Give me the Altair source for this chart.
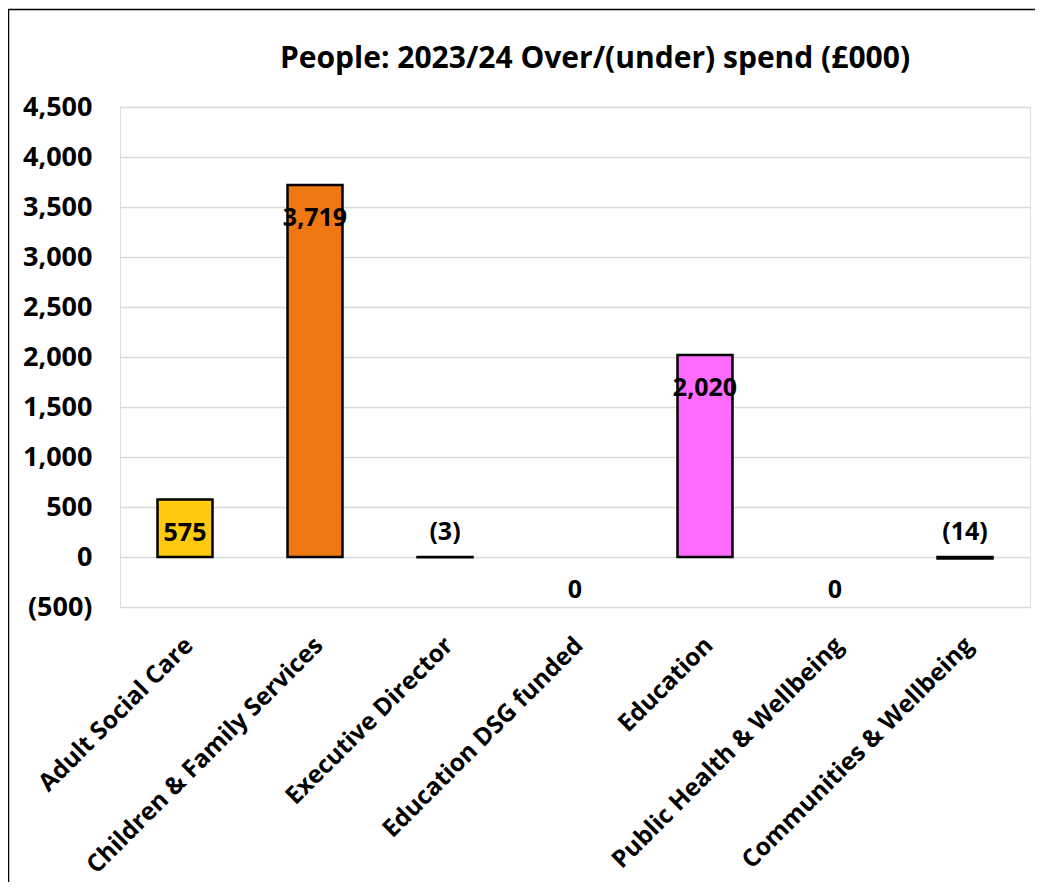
import altair as alt
import pandas as pd

categories = [
    "Adult Social Care",
    "Children & Family Services",
    "Executive Director",
    "Education DSG funded",
    "Education",
    "Public Health & Wellbeing",
    "Communities & Wellbeing",
]
values = [575, 3719, -3, 0, 2020, 0, -14]
colors = ["#FFC90E", "#F07812", "#404040", "#404040", "#FF6BFF", "#404040", "#404040"]
y_ticks = [-500, 0, 500, 1000, 1500, 2000, 2500, 3000, 3500, 4000, 4500]
title_text = ["People: 2023/24 Over/(under) spend (£000)"]


def fmt(v):
    if v < 0:
        return "({:,})".format(-v)
    return "{:,}".format(v)


df = pd.DataFrame({
    "cat": categories,
    "value": values,
    "color": colors,
    "label": [fmt(v) for v in values],
})
title_df = pd.DataFrame({"t": title_text})

FONT = "Open Sans"
W, H = 910, 500

x_enc = alt.X(
    "cat:N",
    sort=categories,
    scale=alt.Scale(paddingInner=0, paddingOuter=0),
    axis=alt.Axis(
        title=None,
        labelAngle=-45,
        labelAlign="right",
        labelBaseline="top",
        labelFont=FONT,
        labelFontWeight="bold",
        labelFontSize=24.5,
        labelColor="black",
        labelPadding=26,
        labelOffset=-4,
        labelLimit=400,
        domain=False,
        ticks=False,
        grid=False,
    ),
)

y_scale = alt.Scale(domain=[-500, 4500], nice=False, zero=False)
y_axis = alt.Axis(
    title=None,
    values=y_ticks,
    labelExpr="datum.value < 0 ? '(' + format(-datum.value, ',') + ')' : format(datum.value, ',')",
    labelFont=FONT,
    labelFontWeight="bold",
    labelFontSize=27,
    labelColor="black",
    labelPadding=28,
    domain=False,
    ticks=False,
    grid=True,
    gridColor="#D9D9D9",
    gridWidth=1.5,
)

base = alt.Chart(df)

bars = base.transform_filter("datum.value != 0").mark_bar(
    size=55, stroke="black", strokeWidth=2.5
).encode(
    x=x_enc,
    y=alt.Y("value:Q", scale=y_scale, axis=y_axis),
    y2=alt.datum(0),
    fill=alt.Fill("color:N", scale=None),
)

pos_labels = base.transform_filter("datum.value >= 0").mark_text(
    font=FONT, fontWeight="bold", fontSize=25, color="black", baseline="middle", dy=33
).encode(
    x=alt.X("cat:N", sort=categories),
    y=alt.Y("value:Q", scale=y_scale),
    text="label:N",
)

neg_labels = base.transform_filter("datum.value < 0").mark_text(
    font=FONT, fontWeight="bold", fontSize=25, color="black", baseline="middle", dy=-25
).encode(
    x=alt.X("cat:N", sort=categories),
    y=alt.datum(0),
    text="label:N",
)

frame = base.transform_filter("datum.cat == 'Adult Social Care'").mark_rect(
    fill=None, stroke="black", strokeWidth=1.5, clip=False
).encode(
    x=alt.value(-111.5),
    x2=alt.value(3000),
    y=alt.value(-97.5),
    y2=alt.value(3000),
)

title = alt.Chart(title_df).mark_text(
    font=FONT, fontWeight="bold", fontSize=30, color="black",
    align="center", baseline="alphabetic",
).encode(
    x=alt.value(W / 2 + 20),
    y=alt.value(-39),
    text="t:N",
)

chart = alt.layer(frame, bars, pos_labels, neg_labels, title).properties(
    width=W,
    height=H,
    autosize=alt.AutoSizeParams(type="none"),
    padding={"left": 112, "top": 99, "right": 5, "bottom": 275},
).configure_view(stroke=None).configure(background="white")

chart.save("out.html", embed_options={"renderer": "svg", "actions": False})
